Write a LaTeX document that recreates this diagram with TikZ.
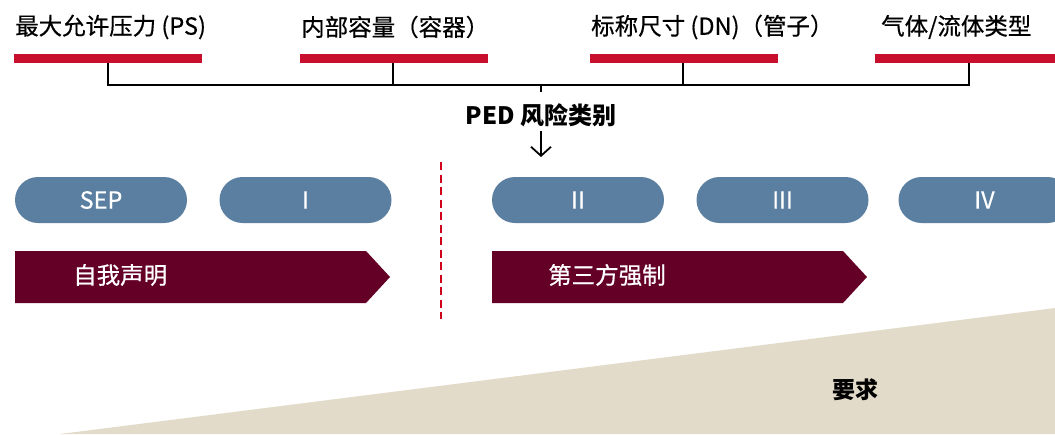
\documentclass[tikz,border=0pt]{standalone}
\usepackage{fontspec}
\setmainfont{Noto Sans CJK SC}
\newfontfamily\medfont{Noto Sans CJK SC}[FakeBold=0.5]
\usetikzlibrary{arrows.meta}
\definecolor{barred}{HTML}{C8102E}
\definecolor{pillblue}{HTML}{5A7FA0}
\definecolor{darkmaroon}{HTML}{640026}
\definecolor{beigefill}{HTML}{E3DBC9}
\definecolor{dashred}{HTML}{D0021B}
\begin{document}
\begin{tikzpicture}[x=1pt,y=-1pt,
  toplabel/.style={anchor=west,inner sep=0pt,font=\medfont\fontsize{23.5}{27}\selectfont},
  redbar/.style={fill=barred,draw=none,minimum width=188pt,minimum height=9pt,inner sep=0pt},
  bracketline/.style={draw=black,line width=1.8pt},
  pillnode/.style={fill=pillblue,draw=none,rounded corners=23pt,minimum width=172pt,minimum height=46pt,inner sep=0pt,text=white,font=\medfont\fontsize{23.5}{27}\selectfont},
  bandshape/.style={fill=darkmaroon,draw=none},
  bandtext/.style={anchor=west,inner sep=0pt,text=white,font=\medfont\fontsize{23.5}{27}\selectfont},
  sepline/.style={draw=dashred,line width=2pt,dash pattern=on 8pt off 4.5pt}
]
\clip (0,0) rectangle (1055,434);
\fill[white] (0,0) rectangle (1055,434);

% bottom wedge
\fill[beigefill] (60,434) -- (1055,308) -- (1055,434) -- cycle;
\node[font=\bfseries\fontsize{23}{26}\selectfont,inner sep=0pt] (req) at (855,390) {要求};

% top labels
\node[toplabel] (l1) at (15,27) {最大允许压力 (PS)};
\node[toplabel] (l2) at (301,27) {内部容量（容器）};
\node[toplabel] (l3) at (591,27) {标称尺寸 (DN)（管子）};
\node[toplabel] (l4) at (881,27) {气体/流体类型};

% red bars
\node[redbar] (b1) at (108,58.5) {};
\node[redbar] (b2) at (393.5,58.5) {};
\node[redbar] (b3) at (683.5,58.5) {};
\node[redbar] (b4) at (969,58.5) {};

% bracket
\coordinate (hub) at (541,85);
\coordinate (hubend) at (541,92);
\draw[bracketline] (b1.south) |- (hub);
\draw[bracketline] (b4.south) |- (hub);
\draw[bracketline] ([xshift=-0.5pt]b2.south) -- ([xshift=-0.5pt]b2.south |- hub);
\draw[bracketline] ([xshift=-0.5pt]b3.south) -- ([xshift=-0.5pt]b3.south |- hub);
\draw[bracketline] (hub) -- (hubend);

\node[font=\bfseries\fontsize{24}{28}\selectfont,inner sep=0pt] (ped) at (541,115) {PED 风险类别};
\coordinate (arrtip) at (541,157);
\draw[bracketline,-{Straight Barb[length=9pt,width=20pt,line width=1.8pt]}] (ped.south) ++(0,4) -- (arrtip);

% separator
\coordinate (sepa) at (441,162);
\coordinate (sepb) at (441,319);
\draw[sepline] (sepa) -- (sepb);

% pills
\node[pillnode] (sep) at (101,200) {SEP};
\node[pillnode] (c1) at (305.5,200) {I};
\node[pillnode] (c2) at (578,200) {II};
\node[pillnode] (c3) at (782.5,200) {III};
\node[pillnode] (c4) at (984.5,200) {IV};

% bands
\fill[bandshape] (15,251) -- (366,251) -- (390,277) -- (366,303) -- (15,303) -- cycle;
\node[bandtext] (selfdecl) at (73,275) {自我声明};
\fill[bandshape] (492,251) -- (843,251) -- (867,277) -- (843,303) -- (492,303) -- cycle;
\node[bandtext] (thirdparty) at (548,275) {第三方强制};
\end{tikzpicture}
\end{document}
